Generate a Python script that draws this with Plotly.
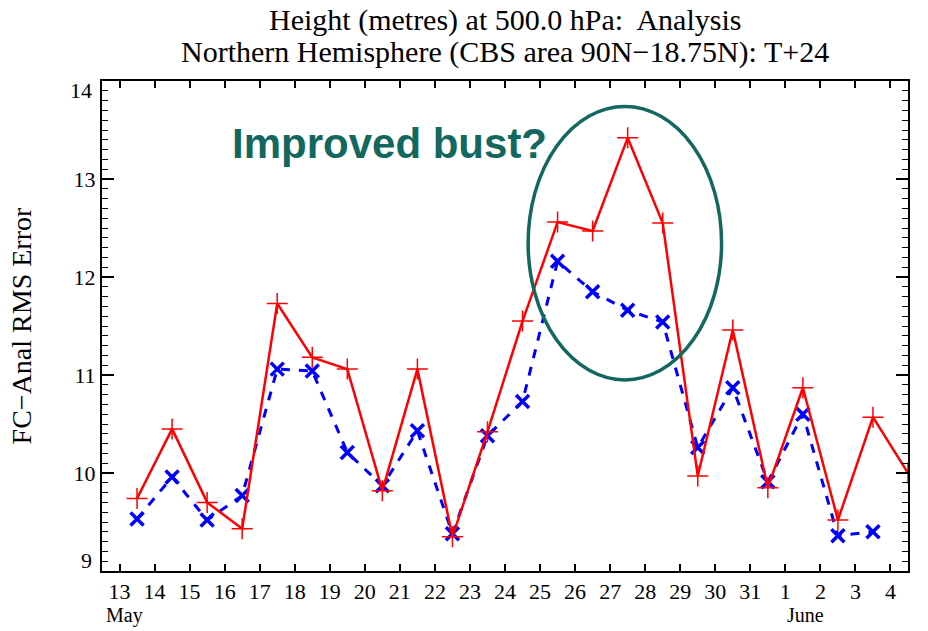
import plotly.graph_objects as go

# Day labels (13 May .. 4 June) and their positions (days counted from 1 May)
day_labels = ["13", "14", "15", "16", "17", "18", "19", "20", "21", "22", "23",
              "24", "25", "26", "27", "28", "29", "30", "31", "1", "2", "3", "4"]
day_positions = list(range(13, 36))

# Verification times (mid-day) for each series
red_days = [13.5, 14.5, 15.5, 16.5, 17.5, 18.5, 19.5, 20.5, 21.5, 22.5, 23.5, 24.5,
            25.5, 26.5, 27.5, 28.5, 29.5, 30.5, 31.5, 32.5, 33.5, 34.5, 35.5]
red_rms = [9.74, 10.45, 9.70, 9.43, 11.73, 11.18, 11.06, 9.82, 11.06, 9.35, 10.42, 11.55,
           12.56, 12.47, 13.42, 12.55, 9.97, 11.46, 9.85, 10.87, 9.52, 10.57, 10.00]

blue_days = [13.5, 14.5, 15.5, 16.5, 17.5, 18.5, 19.5, 20.5, 21.5, 22.5, 23.5, 24.5,
             25.5, 26.5, 27.5, 28.5, 29.5, 30.5, 31.5, 32.5, 33.5, 34.5]
blue_rms = [9.53, 9.96, 9.52, 9.77, 11.06, 11.04, 10.21, 9.87, 10.43, 9.38, 10.38, 10.73,
            12.16, 11.85, 11.66, 11.54, 10.26, 10.87, 9.91, 10.60, 9.36, 9.40]

y_ticks = [9, 10, 11, 12, 13, 14]
y_ticktext = ["", "10", "11", "12", "13", ""]  # 9 and 14 drawn nudged inward below

title_line1 = "Height (metres) at 500.0 hPa:  Analysis"
title_line2 = "Northern Hemisphere (CBS area 90N\u221218.75N): T+24"

serif = "Liberation Serif"
teal = "#12675f"

fig = go.Figure()
fig.add_trace(go.Scatter(
    x=blue_days, y=blue_rms, mode="lines+markers",
    line=dict(color="#0000ff", width=3, dash="dash"),
    marker=dict(symbol="x-thin", size=13, color="#0000ff",
                line=dict(color="#0000ff", width=3.5)),
    showlegend=False))
fig.add_trace(go.Scatter(
    x=red_days, y=red_rms, mode="lines+markers",
    line=dict(color="#ff0000", width=2.5),
    marker=dict(symbol="cross-thin", size=15, color="#ff0000",
                line=dict(color="#ff0000", width=1.5)),
    showlegend=False))

# Ellipse highlighting the bust
fig.add_shape(type="circle", xref="x", yref="y",
              x0=24.66, x1=30.18, y0=10.95, y1=13.74,
              line=dict(color=teal, width=3.5))

fig.add_annotation(x=20.7, y=13.36, xref="x", yref="y", text="<b>Improved bust?</b>",
                   showarrow=False, font=dict(family="Liberation Sans", size=42, color=teal))

# Title lines
fig.add_annotation(x=0.5, y=1.124, xref="paper", yref="paper", text=title_line1, showarrow=False,
                   xanchor="center", yanchor="middle", font=dict(family=serif, size=30, color="black"))
fig.add_annotation(x=0.5, y=1.059, xref="paper", yref="paper", text=title_line2, showarrow=False,
                   xanchor="center", yanchor="middle", font=dict(family=serif, size=30, color="black"))

# End tick labels of the y axis (drawn slightly inside, as in the original)
fig.add_annotation(x=0, y=13.9, xref="paper", yref="y", text=str(y_ticks[-1]), showarrow=False,
                   xanchor="right", yanchor="middle", xshift=-8,
                   font=dict(family=serif, size=22, color="black"))
fig.add_annotation(x=0, y=9.11, xref="paper", yref="y", text=str(y_ticks[0]), showarrow=False,
                   xanchor="right", yanchor="middle", xshift=-8,
                   font=dict(family=serif, size=22, color="black"))

# Y axis title
fig.add_annotation(x=-0.1, y=0.5, xref="paper", yref="paper", text="FC\u2212Anal RMS Error",
                   showarrow=False, textangle=-90, xanchor="center", yanchor="middle",
                   font=dict(family=serif, size=28, color="black"))

# Month labels
fig.add_annotation(x=12.55, y=-0.09, xref="x", yref="paper", text="May", showarrow=False,
                   xanchor="left", yanchor="middle", font=dict(family=serif, size=20, color="black"))
fig.add_annotation(x=32.0, y=-0.09, xref="x", yref="paper", text="June", showarrow=False,
                   xanchor="left", yanchor="middle", font=dict(family=serif, size=20, color="black"))

fig.update_layout(
    width=928, height=631,
    margin=dict(l=102, r=20, t=81, b=60),
    paper_bgcolor="white", plot_bgcolor="white",
)

fig.update_xaxes(
    range=[12.5, 35.5], tickmode="array", tickvals=day_positions, ticktext=day_labels,
    ticks="inside", ticklen=7, tickwidth=1.5, tickcolor="black",
    showline=True, linewidth=2, linecolor="black", mirror="allticks",
    showgrid=False, zeroline=False,
    tickfont=dict(family=serif, size=22, color="black"))

fig.update_yaxes(
    range=[9, 14], tickmode="array", tickvals=y_ticks, ticktext=y_ticktext,
    ticks="inside", ticklen=12, tickwidth=1.5, tickcolor="black",
    minor=dict(dtick=0.1, ticks="inside", ticklen=6, tickwidth=1.2, tickcolor="black", showgrid=False),
    showline=True, linewidth=2, linecolor="black", mirror="allticks",
    showgrid=False, zeroline=False,
    tickfont=dict(family=serif, size=22, color="black"))

fig.write_html("out.html")
